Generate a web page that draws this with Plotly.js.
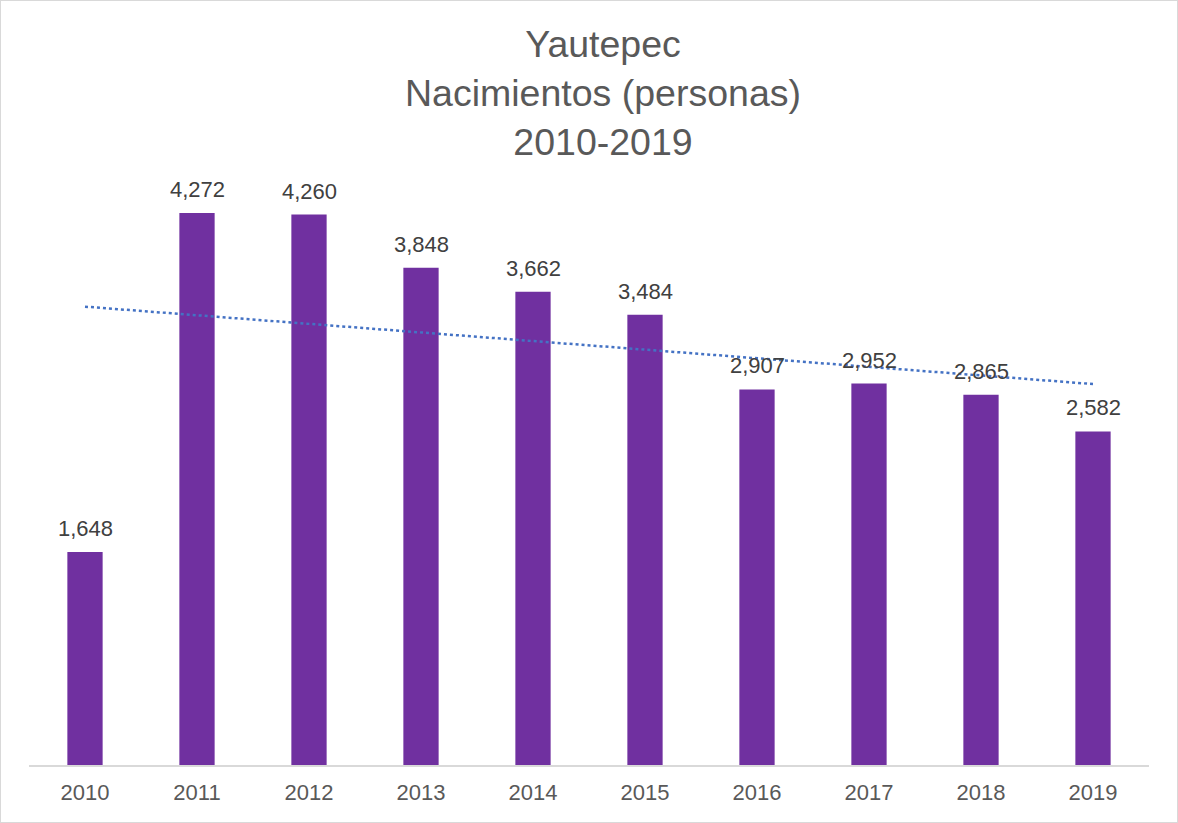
<!DOCTYPE html>
<html>
<head>
<meta charset="utf-8">
<script src="https://cdn.plot.ly/plotly-3.0.1.min.js"></script>
<style>
html,body{margin:0;padding:0;background:#fff;}
#chart{width:1178px;height:823px;box-sizing:border-box;border:1px solid #D9D9D9;}
</style>
</head>
<body>
<div id="chart"></div>
<script>
const years = ['2010','2011','2012','2013','2014','2015','2016','2017','2018','2019'];
const births = [1648, 4272, 4260, 3848, 3662, 3484, 2907, 2952, 2865, 2582];
const titleLines = ['Yautepec', 'Nacimientos (personas)', '2010-2019'];

// linear trendline (least squares) from the data
const n = births.length;
const xs = births.map((_, i) => i);
const mx = xs.reduce((a, b) => a + b, 0) / n;
const my = births.reduce((a, b) => a + b, 0) / n;
let sxy = 0, sxx = 0;
for (let i = 0; i < n; i++) { sxy += (xs[i] - mx) * (births[i] - my); sxx += (xs[i] - mx) ** 2; }
const slope = sxy / sxx;
const trend = xs.map(x => my + slope * (x - mx));

const font = 'Liberation Sans, Arial, sans-serif';

const bars = {
  type: 'bar',
  x: years,
  y: births,
  marker: {color: '#7030A0'},
  hoverinfo: 'x+y',
  showlegend: false
};
const trendLine = {
  type: 'scatter',
  mode: 'lines',
  x: years,
  y: trend,
  line: {color: '#4472C4', width: 2.5, dash: 'dot'},
  hoverinfo: 'skip',
  showlegend: false
};

// data labels: x given as category index on the category axis
const labelAnns = years.map((yr, i) => ({
  x: i, y: births[i], xref: 'x', yref: 'y',
  text: births[i].toLocaleString('en-US'),
  showarrow: false, xanchor: 'center', yanchor: 'bottom', yshift: 9,
  font: {family: font, size: 22, color: '#404040'}
}));

const layout = {
  width: 1176,
  height: 821,
  margin: {l: 28, r: 28, t: 118, b: 57},
  paper_bgcolor: '#fff',
  plot_bgcolor: '#fff',
  bargap: 0.685,
  title: {
    text: titleLines.join('<br>'),
    font: {family: font, size: 37.5, color: '#595959'},
    xref: 'paper', x: 0.5 + 14/1120, xanchor: 'center',
    yref: 'container', y: 1 - 56/821, yanchor: 'middle'
  },
  annotations: labelAnns,
  xaxis: {
    type: 'category',
    range: [-0.5, years.length - 0.5],
    showline: true, linecolor: '#D9D9D9', linewidth: 1.5,
    ticks: '', showgrid: false,
    ticklabelstandoff: 7,
    tickfont: {family: font, size: 22, color: '#595959'},
    title: {text: ''}
  },
  yaxis: {
    range: [0, 5000],
    visible: false,
    showgrid: false, zeroline: false
  }
};

Plotly.newPlot('chart', [bars, trendLine], layout, {displayModeBar: false, staticPlot: true});
</script>
</body>
</html>
